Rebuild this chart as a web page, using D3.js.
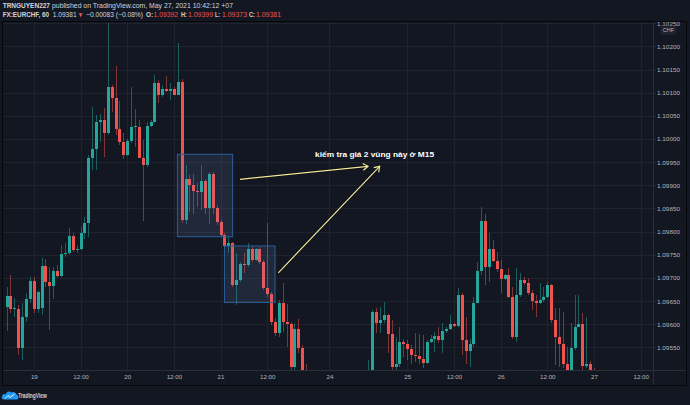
<!DOCTYPE html>
<html><head><meta charset="utf-8">
<script src="https://cdn.jsdelivr.net/npm/d3@7/dist/d3.min.js"></script>
<style>html,body{margin:0;padding:0;background:#131722;overflow:hidden}svg{display:block}</style>
</head><body>
<svg id="c" width="690" height="405"></svg>
<script>
// ---- data (EURCHF, 60 min bars, index 0 = 18 May 17:00 +07) ----
const open = [1.09638,1.09661,1.09633,1.09633,1.09549,1.09616,1.09654,1.09693,1.09633,1.09634,
1.09725,1.09692,1.09682,1.09715,1.09704,1.09751,1.09753,1.09790,1.09760,1.09762,
1.09797,1.09818,1.09958,1.09978,1.10037,1.10041,1.10012,1.10113,1.10089,1.10021,
1.09994,1.09965,1.09996,1.10026,1.10026,1.09960,1.09944,1.10028,1.10036,1.10122,
1.10096,1.10109,1.10104,1.10107,1.10096,1.10124,1.09825,1.09913,1.09900,1.09888,
1.09886,1.09909,1.09850,1.09924,1.09852,1.09820,1.09792,1.09769,1.09775,1.09684,
1.09695,1.09731,1.09728,1.09762,1.09738,1.09762,1.09735,1.09679,1.09665,1.09605,
1.09580,1.09646,1.09605,1.09600,1.09508,1.09589,1.09548,1.09484,1.09470,1.09462,
1.09468,1.09455,1.09460,1.09470,1.09478,1.09472,1.09480,1.09475,1.09485,1.09478,
1.09488,1.09482,1.09490,1.09485,1.09495,1.09627,1.09602,1.09610,1.09620,1.09579,
1.09507,1.09514,1.09562,1.09557,1.09546,1.09533,1.09531,1.09525,1.09517,1.09562,
1.09569,1.09574,1.09566,1.09585,1.09589,1.09600,1.09597,1.09663,1.09566,1.09543,
1.09557,1.09646,1.09715,1.09823,1.09724,1.09762,1.09737,1.09719,1.09697,1.09706,
1.09659,1.09573,1.09663,1.09695,1.09689,1.09667,1.09651,1.09645,1.09652,1.09658,
1.09684,1.09610,1.09573,1.09557,1.09514,1.09496,1.09548,1.09594,1.09600,1.09510,
1.09514,1.09488,1.09478,1.09465,1.09455,1.09440,1.09430,1.09425,1.09412,1.09405,1.09398,1.09392];
const high = [1.09680,1.09706,1.09656,1.09641,1.09646,1.09668,1.09702,1.09702,1.09672,1.09743,
1.09741,1.09723,1.09723,1.09728,1.09771,1.09775,1.09808,1.09797,1.09771,1.09810,
1.09832,1.09965,1.10069,1.10052,1.10055,1.10066,1.10251,1.10116,1.10158,1.10082,
1.10013,1.09999,1.10113,1.10064,1.10041,1.09998,1.10037,1.10041,1.10138,1.10127,
1.10116,1.10136,1.10120,1.10113,1.10208,1.10129,1.09944,1.09922,1.09924,1.09904,
1.09944,1.09913,1.09929,1.09929,1.09857,1.09825,1.09796,1.09789,1.09778,1.09753,
1.09735,1.09753,1.09775,1.09767,1.09765,1.09766,1.09738,1.09818,1.09670,1.09613,
1.09652,1.09688,1.09643,1.09605,1.09603,1.09612,1.09555,1.09514,1.09480,1.09475,
1.09472,1.09466,1.09470,1.09490,1.09488,1.09492,1.09490,1.09495,1.09494,1.09496,
1.09497,1.09498,1.09499,1.09522,1.09630,1.09636,1.09638,1.09648,1.09623,1.09609,
1.09573,1.09594,1.09567,1.09566,1.09555,1.09580,1.09579,1.09576,1.09566,1.09576,
1.09584,1.09594,1.09602,1.09594,1.09620,1.09603,1.09679,1.09667,1.09616,1.09567,
1.09659,1.09735,1.09854,1.09837,1.09796,1.09782,1.09756,1.09738,1.09708,1.09721,
1.09681,1.09721,1.09710,1.09702,1.09699,1.09674,1.09663,1.09689,1.09681,1.09692,
1.09686,1.09634,1.09634,1.09627,1.09551,1.09602,1.09663,1.09663,1.09625,1.09616,
1.09521,1.09505,1.09485,1.09472,1.09460,1.09448,1.09438,1.09432,1.09420,1.09410,1.09402,1.09399];
const low = [1.09585,1.09624,1.09615,1.09533,1.09522,1.09605,1.09646,1.09624,1.09624,1.09620,
1.09681,1.09587,1.09654,1.09700,1.09702,1.09746,1.09749,1.09756,1.09754,1.09760,
1.09785,1.09789,1.09933,1.09933,1.09994,1.09962,1.10008,1.10059,1.10008,1.09987,
1.09956,1.09963,1.09991,1.09982,1.09958,1.09823,1.09940,1.10026,1.10034,1.10077,
1.10091,1.10102,1.10084,1.10095,1.10095,1.09818,1.09816,1.09843,1.09839,1.09854,
1.09846,1.09839,1.09816,1.09839,1.09814,1.09789,1.09764,1.09754,1.09681,1.09641,
1.09692,1.09710,1.09724,1.09735,1.09737,1.09731,1.09674,1.09659,1.09598,1.09574,
1.09573,1.09584,1.09551,1.09501,1.09501,1.09537,1.09479,1.09460,1.09455,1.09450,
1.09448,1.09445,1.09442,1.09455,1.09462,1.09465,1.09468,1.09470,1.09470,1.09472,
1.09476,1.09478,1.09480,1.09480,1.09488,1.09580,1.09580,1.09602,1.09537,1.09501,
1.09498,1.09508,1.09530,1.09522,1.09515,1.09519,1.09515,1.09505,1.09515,1.09559,
1.09540,1.09559,1.09538,1.09580,1.09587,1.09594,1.09594,1.09533,1.09515,1.09508,
1.09551,1.09645,1.09706,1.09684,1.09692,1.09735,1.09713,1.09667,1.09695,1.09656,
1.09567,1.09562,1.09659,1.09684,1.09663,1.09630,1.09616,1.09643,1.09648,1.09656,
1.09603,1.09512,1.09508,1.09505,1.09488,1.09485,1.09544,1.09594,1.09501,1.09505,
1.09480,1.09470,1.09458,1.09448,1.09432,1.09422,1.09415,1.09405,1.09398,1.09390,1.09385,1.09373];
const close = [1.09661,1.09633,1.09635,1.09549,1.09616,1.09654,1.09693,1.09632,1.09669,1.09725,
1.09692,1.09682,1.09715,1.09704,1.09751,1.09754,1.09790,1.09760,1.09762,1.09797,
1.09818,1.09958,1.09978,1.10037,1.10041,1.10012,1.10113,1.10089,1.10021,1.09994,
1.09965,1.09996,1.10026,1.10028,1.09960,1.09944,1.10028,1.10036,1.10122,1.10096,
1.10109,1.10104,1.10107,1.10096,1.10124,1.09825,1.09913,1.09900,1.09888,1.09886,
1.09909,1.09850,1.09924,1.09852,1.09820,1.09792,1.09769,1.09775,1.09684,1.09695,
1.09731,1.09728,1.09762,1.09738,1.09762,1.09735,1.09679,1.09665,1.09605,1.09580,
1.09646,1.09605,1.09600,1.09508,1.09589,1.09548,1.09484,1.09470,1.09462,1.09468,
1.09455,1.09460,1.09452,1.09478,1.09472,1.09480,1.09475,1.09485,1.09478,1.09488,
1.09482,1.09490,1.09485,1.09495,1.09627,1.09602,1.09610,1.09620,1.09579,1.09507,
1.09514,1.09562,1.09557,1.09546,1.09533,1.09531,1.09525,1.09517,1.09562,1.09569,
1.09574,1.09566,1.09585,1.09589,1.09600,1.09597,1.09663,1.09566,1.09543,1.09557,
1.09646,1.09715,1.09823,1.09724,1.09762,1.09737,1.09719,1.09697,1.09706,1.09659,
1.09573,1.09663,1.09695,1.09689,1.09667,1.09651,1.09645,1.09652,1.09658,1.09684,
1.09610,1.09573,1.09557,1.09514,1.09496,1.09548,1.09594,1.09600,1.09510,1.09514,
1.09488,1.09478,1.09465,1.09455,1.09440,1.09430,1.09425,1.09412,1.09405,1.09398,1.09392,1.09381];

const priceTicks = [1.0955,1.0960,1.0965,1.0970,1.0975,1.0980,1.0985,1.0990,1.0995,1.1000,1.1005,1.1010,1.1015,1.1020,1.1025];
const timeTickIndex = [7,19,31,43,55,67,83,103,115,127,139,151,163];
const timeTickLabels = ["19","12:00","20","12:00","21","12:00","24","25","12:00","26","12:00","27","12:00"];
const quoteLabels = ["O:","H:","L:","C:"];
const quoteValues = ["1.09392","1.09399","1.09373","1.09381"];
// annotation anchors (bar index, price)
const zones = [[43.9,1.09967,58.1,1.09789],[56.0,1.09769,69.0,1.09647]];
const arrows = [[60.0,1.09913,92.9,1.09941],[69.85,1.09711,95.9,1.09941]];
const note = {i:94.6, p:1.09961, text:"kiểm tra giá 2 vùng này ở M15"};

// ---- layout ----
const P = {l:3, r:653, t:22, b:370, axR:686, axB:385};
const UP="#26a69a", DN="#ef5350", GRID="#1f232e", LINE="#2a2e39", TXT="#b2b5be";
const FONT="'Liberation Sans', Arial, sans-serif";
const svg = d3.select("#c");
svg.append("rect").attr("width",690).attr("height",405).attr("fill","#131722");

const x = d3.scaleLinear().domain([-0.925,166.17]).range([P.l,P.r]);
const y = d3.scaleLinear().domain([1.095,1.100]).range([370.5,139]);

const defs = svg.append("defs");
defs.append("clipPath").attr("id","plot").append("rect").attr("x",P.l).attr("y",P.t).attr("width",P.r-P.l).attr("height",P.b-P.t);
defs.append("clipPath").attr("id","pax").append("rect").attr("x",P.r).attr("y",P.t).attr("width",P.axR-P.r).attr("height",P.b-P.t);

// grid
const grid = svg.append("g").attr("clip-path","url(#plot)").attr("shape-rendering","crispEdges");
grid.selectAll(".h").data(priceTicks).join("line")
  .attr("x1",P.l).attr("x2",P.r).attr("y1",d=>Math.round(y(d))+0.5).attr("y2",d=>Math.round(y(d))+0.5)
  .attr("stroke",GRID);
grid.selectAll(".v").data(timeTickIndex).join("line")
  .attr("y1",P.t).attr("y2",P.b).attr("x1",d=>Math.round(x(d))+0.5).attr("x2",d=>Math.round(x(d))+0.5)
  .attr("stroke",GRID);

// candles
const bars = open.map((o,i)=>({i,o,h:high[i],l:low[i],c:close[i]}));
const cg = svg.append("g").attr("clip-path","url(#plot)").attr("shape-rendering","crispEdges");
cg.selectAll(".w").data(bars).join("rect")
  .attr("x",d=>Math.round(x(d.i))).attr("width",1)
  .attr("y",d=>y(d.h)).attr("height",d=>Math.max(1,y(d.l)-y(d.h)))
  .attr("fill",d=>d.c>=d.o?UP:DN).attr("opacity",0.5);
cg.selectAll(".b").data(bars).join("rect")
  .attr("x",d=>Math.round(x(d.i))-1).attr("width",3)
  .attr("y",d=>Math.round(y(Math.max(d.o,d.c))))
  .attr("height",d=>Math.max(1,Math.round(y(Math.min(d.o,d.c)))-Math.round(y(Math.max(d.o,d.c)))))
  .attr("fill",d=>d.c>=d.o?UP:DN);

// annotation zones
const an = svg.append("g").attr("clip-path","url(#plot)");
an.selectAll(".z").data(zones).join("rect")
  .attr("x",d=>x(d[0])).attr("y",d=>y(d[1]))
  .attr("width",d=>x(d[2])-x(d[0])).attr("height",d=>y(d[3])-y(d[1]))
  .attr("fill","rgba(120,150,200,0.14)").attr("stroke","#2c5e9c").attr("stroke-width",1);

// arrows
const AC="#f3e99a";
arrows.forEach(a=>{
  const x1=x(a[0]),y1=y(a[1]),x2=x(a[2]),y2=y(a[3]);
  an.append("line").attr("x1",x1).attr("y1",y1).attr("x2",x2).attr("y2",y2)
    .attr("stroke","#000").attr("stroke-opacity",0.5).attr("stroke-width",2.4);
  an.append("line").attr("x1",x1).attr("y1",y1).attr("x2",x2).attr("y2",y2)
    .attr("stroke",AC).attr("stroke-width",1.2);
  const ang=Math.atan2(y2-y1,x2-x1), L=6, s=0.6;
  const pts=[[x2-L*Math.cos(ang-s),y2-L*Math.sin(ang-s)],[x2,y2],[x2-L*Math.cos(ang+s),y2-L*Math.sin(ang+s)]];
  an.append("path").attr("d",d3.line()(pts)).attr("fill","none").attr("stroke",AC).attr("stroke-width",1.2);
});
an.append("text").attr("x",x(note.i)).attr("y",y(note.p)).attr("text-anchor","middle")
  .attr("font-family",FONT).attr("font-size",8).attr("font-weight","bold").attr("fill","#ffffff")
  .attr("textLength",119).attr("lengthAdjust","spacingAndGlyphs").text(note.text);

// separators and border
svg.append("line").attr("x1",P.r+0.5).attr("x2",P.r+0.5).attr("y1",P.t).attr("y2",P.axB).attr("stroke",LINE);
svg.append("line").attr("x1",P.l).attr("x2",P.axR).attr("y1",P.b+0.5).attr("y2",P.b+0.5).attr("stroke",LINE);
svg.append("rect").attr("x",P.l-0.5).attr("y",P.t-0.5).attr("width",P.axR-P.l+1).attr("height",P.axB-P.t+1)
  .attr("fill","none").attr("stroke","#05070b").attr("stroke-width",1);

// price axis (clip applied on an untransformed wrapper)
const yaWrap = svg.append("g").attr("clip-path","url(#pax)");
const ya = yaWrap.append("g").attr("transform",`translate(${P.r},0)`)
  .call(d3.axisRight(y).tickValues(priceTicks).tickFormat(d3.format(".5f")).tickSize(3).tickPadding(1));
ya.select(".domain").remove();
ya.selectAll(".tick line").attr("stroke",LINE);
ya.selectAll(".tick text").attr("fill",TXT).attr("font-family",FONT).attr("font-size",6.2)
  .attr("textLength",23).attr("lengthAdjust","spacingAndGlyphs");
// currency box
svg.append("rect").attr("x",661).attr("y",26).attr("width",15).attr("height",8).attr("rx",1.5)
  .attr("fill","#1e222d").attr("stroke","#2a2e39").attr("stroke-width",0.6);
svg.append("text").attr("x",668.5).attr("y",32.2).attr("text-anchor","middle").attr("font-family",FONT)
  .attr("font-size",5.5).attr("fill",TXT).text("CHF");

// time axis
const xa = svg.append("g").attr("transform",`translate(0,${P.b})`)
  .call(d3.axisBottom(x).tickValues(timeTickIndex).tickFormat((d,k)=>timeTickLabels[k]).tickSize(0).tickPadding(5));
xa.select(".domain").remove();
xa.selectAll(".tick text").attr("fill",TXT).attr("font-family",FONT).attr("font-size",6.2);

// header
const hd = svg.append("g").attr("font-family",FONT).attr("font-size",7);
const seg=(s,x0,x1,yb,fill,bold)=>hd.append("text").attr("x",x0).attr("y",yb).attr("textLength",x1-x0)
  .attr("lengthAdjust","spacingAndGlyphs").attr("fill",fill).attr("font-weight",bold?"bold":"normal").text(s);
const HW="#d1d4dc", HR="#ef5350";
seg("TRNGUYEN227",2.7,50,7.6,HW,true);
seg("published on TradingView.com, May 27, 2021 10:42:12 +07",52,233,7.6,HW,false);
seg("FX:EURCHF, 60",2.7,49,17.4,HW,true);
seg("1.09381",52.7,76.7,17.4,HW,false);
hd.append("path").attr("d","M78.8,13.2 L82.6,13.2 L80.7,17.2 Z").attr("fill",HR);
seg("\u22120.00083 (\u22120.08%)",86,143,17.4,HW,false);
const qx=[[146,153,153.6,178],[181,187,188,213],[215,220,222,247],[249,255,256,281]];
quoteLabels.forEach((lab,k)=>{
  seg(lab,qx[k][0],qx[k][1],17.4,HW,true);
  seg(quoteValues[k],qx[k][2],qx[k][3],17.4,HR,false);
});

// footer logo
const lg = svg.append("g");
lg.append("path").attr("d","M3.5,399.6 L16.8,399.6 A2.6,2.6 0 0 0 16.4,394.6 A3.4,3.4 0 0 0 11.4,392.4 A3.6,3.6 0 0 0 5.6,394.4 A2.7,2.7 0 0 0 3.5,399.6 Z")
  .attr("fill","#2196f3");
lg.append("path").attr("d","M5,398.6 L8,395.6 L10.2,397.4 L14.6,393.8").attr("fill","none").attr("stroke","#ffffff").attr("stroke-width",0.9);
lg.append("text").attr("x",18.3).attr("y",398.4).attr("font-family",FONT).attr("font-size",7).attr("font-weight","bold")
  .attr("fill","#d1d4dc").attr("textLength",28.4).attr("lengthAdjust","spacingAndGlyphs").text("TradingView");
</script>
</body></html>
